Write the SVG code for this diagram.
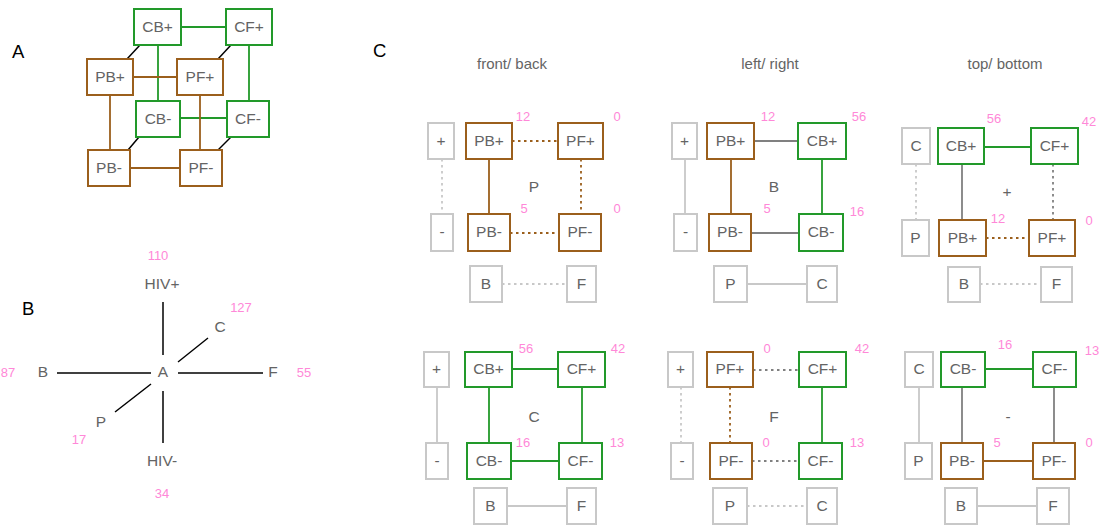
<svg xmlns="http://www.w3.org/2000/svg" width="1107" height="530" viewBox="0 0 1107 530">
<style>
  text { font-family: "Liberation Sans", Arial, sans-serif; }
  .lbl { font-size: 18.5px; fill: #000; }
  .t { font-size: 15.5px; fill: #646464; text-anchor: middle; }
  .ttl { font-size: 15px; fill: #646464; text-anchor: middle; }
  .n { font-size: 13px; fill: #ff88d8; text-anchor: middle; }
  .bx { fill: #fff; stroke-width: 2; }
  .br { stroke: #9b5f1c; }
  .gr { stroke: #22992a; }
  .lg { stroke: #c8c8c8; }
  .e { fill: none; stroke-width: 1.8; }
  .ebr { stroke: #9b5f1c; }
  .egr { stroke: #22992a; }
  .egy { stroke: #808080; }
  .elg { stroke: #c8c8c8; }
  .ebk { stroke: #000; stroke-width: 1.5; }
  .dot { stroke-dasharray: 2.5 3.5; }
</style>

<!-- panel labels -->
<text class="lbl" x="12" y="58">A</text>
<text class="lbl" x="22" y="315">B</text>
<text class="lbl" x="373" y="57">C</text>

<!-- ============ A: cube ============ -->
<g id="cube-edges">
  <line class="e egr" x1="181" y1="27" x2="226" y2="27"/>
  <line class="e egr" x1="158" y1="45" x2="158" y2="101"/>
  <line class="e egr" x1="249" y1="45" x2="249" y2="101"/>
  <line class="e egr" x1="180" y1="118" x2="227" y2="118"/>
  <line class="e ebr" x1="133" y1="77" x2="177" y2="77"/>
  <line class="e ebr" x1="110" y1="95" x2="110" y2="150"/>
  <line class="e ebr" x1="200" y1="95" x2="200" y2="150"/>
  <line class="e ebr" x1="130" y1="168" x2="180" y2="168"/>
  <line class="e ebk" x1="140" y1="45" x2="127" y2="59"/>
  <line class="e ebk" x1="231" y1="45" x2="218" y2="59"/>
  <line class="e ebk" x1="139" y1="137" x2="128" y2="150"/>
  <line class="e ebk" x1="231" y1="137" x2="218" y2="150"/>
</g>
<g id="a-CBp"><rect class="bx gr" x="134" y="9" width="47" height="36"/><text class="t" x="157.5" y="32">CB+</text></g>
<g id="a-CFp"><rect class="bx gr" x="226" y="9" width="46" height="36"/><text class="t" x="249" y="32">CF+</text></g>
<g id="a-PBp"><rect class="bx br" x="87" y="59" width="46" height="36"/><text class="t" x="110" y="82">PB+</text></g>
<g id="a-PFp"><rect class="bx br" x="177" y="59" width="46" height="36"/><text class="t" x="200" y="82">PF+</text></g>
<g id="a-CBm"><rect class="bx gr" x="136" y="101" width="44" height="36"/><text class="t" x="158" y="124">CB-</text></g>
<g id="a-CFm"><rect class="bx gr" x="227" y="101" width="42" height="36"/><text class="t" x="248" y="124">CF-</text></g>
<g id="a-PBm"><rect class="bx br" x="88" y="150" width="42" height="36"/><text class="t" x="109" y="173">PB-</text></g>
<g id="a-PFm"><rect class="bx br" x="180" y="150" width="42" height="36"/><text class="t" x="201" y="173">PF-</text></g>

<!-- ============ B: axes ============ -->
<g id="axes">
  <line class="e ebk" x1="163" y1="302" x2="163" y2="355"/>
  <line class="e ebk" x1="163" y1="391" x2="163" y2="443"/>
  <line class="e ebk" x1="57" y1="373" x2="151" y2="373"/>
  <line class="e ebk" x1="178" y1="373" x2="263" y2="373"/>
  <line class="e ebk" x1="178" y1="362" x2="208" y2="338"/>
  <line class="e ebk" x1="151" y1="384" x2="115" y2="412"/>
</g>
<g id="axis-labels">
  <text class="n" x="158" y="260">110</text>
  <text class="t" x="162" y="289">HIV+</text>
  <text class="n" x="241" y="312">127</text>
  <text class="t" x="220" y="332">C</text>
  <text class="n" x="8" y="377">87</text>
  <text class="t" x="43" y="377">B</text>
  <text class="t" x="163" y="377">A</text>
  <text class="t" x="273" y="377">F</text>
  <text class="n" x="304" y="377">55</text>
  <text class="t" x="101" y="427">P</text>
  <text class="n" x="79" y="444">17</text>
  <text class="t" x="162" y="466">HIV-</text>
  <text class="n" x="162" y="498">34</text>
</g>

<!-- ============ C: faces ============ -->
<text class="ttl" x="512" y="69">front/ back</text>
<text class="ttl" x="770" y="69">left/ right</text>
<text class="ttl" x="1005" y="69">top/ bottom</text>

<g id="face-edges">
  <!-- front/ back -->
  <line class="e ebr dot" x1="512" y1="141" x2="558" y2="141"/>
  <line class="e ebr" x1="489" y1="159" x2="489" y2="214"/>
  <line class="e ebr dot" x1="581" y1="159" x2="581" y2="214"/>
  <line class="e ebr dot" x1="510" y1="233" x2="559" y2="233"/>
  <line class="e elg dot" x1="442" y1="159" x2="442" y2="214"/>
  <line class="e elg dot" x1="502" y1="284" x2="567" y2="284"/>
  <!-- left/ right -->
  <line class="e egy" x1="754" y1="141" x2="798" y2="141"/>
  <line class="e ebr" x1="731" y1="159" x2="731" y2="214"/>
  <line class="e egr" x1="822" y1="159" x2="822" y2="214"/>
  <line class="e egy" x1="751" y1="233" x2="799" y2="233"/>
  <line class="e elg" x1="685" y1="159" x2="685" y2="214"/>
  <line class="e elg" x1="747" y1="284" x2="807" y2="284"/>
  <!-- top/ bottom, + -->
  <line class="e egr" x1="984" y1="147" x2="1031" y2="147"/>
  <line class="e egy" x1="962" y1="164" x2="962" y2="220"/>
  <line class="e egy dot" x1="1053" y1="164" x2="1053" y2="220"/>
  <line class="e ebr dot" x1="986" y1="238" x2="1029" y2="238"/>
  <line class="e elg dot" x1="916" y1="164" x2="916" y2="220"/>
  <line class="e elg dot" x1="980" y1="284" x2="1041" y2="284"/>
  <!-- C -->
  <line class="e egr" x1="512" y1="369" x2="558" y2="369"/>
  <line class="e egr" x1="489" y1="387" x2="489" y2="443"/>
  <line class="e egr" x1="582" y1="387" x2="582" y2="443"/>
  <line class="e egr" x1="511" y1="461" x2="559" y2="461"/>
  <line class="e elg" x1="437" y1="387" x2="437" y2="443"/>
  <line class="e elg" x1="507" y1="506" x2="567" y2="506"/>
  <!-- F -->
  <line class="e egy dot" x1="753" y1="370" x2="799" y2="370"/>
  <line class="e ebr dot" x1="730" y1="387" x2="730" y2="443"/>
  <line class="e egr" x1="822" y1="387" x2="822" y2="443"/>
  <line class="e egy dot" x1="752" y1="461" x2="799" y2="461"/>
  <line class="e elg dot" x1="681" y1="387" x2="681" y2="443"/>
  <line class="e elg dot" x1="747" y1="506" x2="807" y2="506"/>
  <!-- - -->
  <line class="e egr" x1="985" y1="369" x2="1033" y2="369"/>
  <line class="e egy" x1="962" y1="387" x2="962" y2="443"/>
  <line class="e egy" x1="1054" y1="387" x2="1054" y2="443"/>
  <line class="e ebr" x1="983" y1="461" x2="1033" y2="461"/>
  <line class="e elg" x1="919" y1="387" x2="919" y2="443"/>
  <line class="e elg" x1="977" y1="506" x2="1037" y2="506"/>
</g>

<!-- front/ back face -->
<g id="fb-plus"><rect class="bx lg" x="428" y="123" width="26" height="36"/><text class="t" x="441" y="146">+</text></g>
<g id="fb-minus"><rect class="bx lg" x="431" y="214" width="22" height="37"/><text class="t" x="442" y="237">-</text></g>
<g id="fb-PBp"><rect class="bx br" x="466" y="123" width="46" height="36"/><text class="t" x="489" y="146">PB+</text></g>
<g id="fb-PFp"><rect class="bx br" x="558" y="123" width="45" height="36"/><text class="t" x="580.5" y="146">PF+</text></g>
<g id="fb-PBm"><rect class="bx br" x="468" y="214" width="42" height="37"/><text class="t" x="489" y="237">PB-</text></g>
<g id="fb-PFm"><rect class="bx br" x="559" y="214" width="42" height="37"/><text class="t" x="580" y="237">PF-</text></g>
<g id="fb-B"><rect class="bx lg" x="470" y="266" width="32" height="36"/><text class="t" x="486" y="289">B</text></g>
<g id="fb-F"><rect class="bx lg" x="567" y="266" width="29" height="36"/><text class="t" x="581.5" y="289">F</text></g>
<g id="fb-labels">
  <text class="n" x="523" y="121">12</text><text class="n" x="617" y="121">0</text>
  <text class="t" x="534" y="192">P</text>
  <text class="n" x="524" y="213">5</text><text class="n" x="617" y="213">0</text>
</g>

<!-- left/ right face -->
<g id="lr-plus"><rect class="bx lg" x="672" y="123" width="25" height="36"/><text class="t" x="684.5" y="146">+</text></g>
<g id="lr-minus"><rect class="bx lg" x="674" y="214" width="23" height="37"/><text class="t" x="685.5" y="237">-</text></g>
<g id="lr-PBp"><rect class="bx br" x="707" y="123" width="47" height="36"/><text class="t" x="730.5" y="146">PB+</text></g>
<g id="lr-CBp"><rect class="bx gr" x="798" y="123" width="48" height="36"/><text class="t" x="822" y="146">CB+</text></g>
<g id="lr-PBm"><rect class="bx br" x="709" y="214" width="42" height="37"/><text class="t" x="730" y="237">PB-</text></g>
<g id="lr-CBm"><rect class="bx gr" x="799" y="214" width="44" height="37"/><text class="t" x="821" y="237">CB-</text></g>
<g id="lr-P"><rect class="bx lg" x="714" y="266" width="33" height="36"/><text class="t" x="730.5" y="289">P</text></g>
<g id="lr-C"><rect class="bx lg" x="807" y="266" width="30" height="36"/><text class="t" x="822" y="289">C</text></g>
<g id="lr-labels">
  <text class="n" x="768" y="121">12</text><text class="n" x="859" y="121">56</text>
  <text class="t" x="774" y="192">B</text>
  <text class="n" x="767" y="213">5</text><text class="n" x="857" y="216">16</text>
</g>

<!-- top/ bottom face (+) -->
<g id="tb-C"><rect class="bx lg" x="902" y="128" width="28" height="36"/><text class="t" x="916" y="151">C</text></g>
<g id="tb-P"><rect class="bx lg" x="902" y="220" width="27" height="36"/><text class="t" x="915.5" y="243">P</text></g>
<g id="tb-CBp"><rect class="bx gr" x="938" y="128" width="46" height="36"/><text class="t" x="961" y="151">CB+</text></g>
<g id="tb-CFp"><rect class="bx gr" x="1031" y="128" width="47" height="36"/><text class="t" x="1054.5" y="151">CF+</text></g>
<g id="tb-PBp"><rect class="bx br" x="939" y="220" width="47" height="36"/><text class="t" x="962.5" y="243">PB+</text></g>
<g id="tb-PFp"><rect class="bx br" x="1029" y="220" width="46" height="36"/><text class="t" x="1052" y="243">PF+</text></g>
<g id="tb-B"><rect class="bx lg" x="948" y="267" width="32" height="35"/><text class="t" x="964" y="289">B</text></g>
<g id="tb-F"><rect class="bx lg" x="1041" y="267" width="31" height="35"/><text class="t" x="1056.5" y="289">F</text></g>
<g id="tb-labels">
  <text class="n" x="994" y="123">56</text><text class="n" x="1089" y="126">42</text>
  <text class="t" x="1007" y="197">+</text>
  <text class="n" x="998" y="223">12</text><text class="n" x="1089" y="225">0</text>
</g>

<!-- C face -->
<g id="c-plus"><rect class="bx lg" x="424" y="352" width="25" height="35"/><text class="t" x="436.5" y="374">+</text></g>
<g id="c-minus"><rect class="bx lg" x="426" y="443" width="22" height="36"/><text class="t" x="437" y="466">-</text></g>
<g id="c-CBp"><rect class="bx gr" x="465" y="352" width="47" height="35"/><text class="t" x="488.5" y="374">CB+</text></g>
<g id="c-CFp"><rect class="bx gr" x="558" y="352" width="47" height="35"/><text class="t" x="581.5" y="374">CF+</text></g>
<g id="c-CBm"><rect class="bx gr" x="467" y="443" width="44" height="36"/><text class="t" x="489" y="466">CB-</text></g>
<g id="c-CFm"><rect class="bx gr" x="559" y="443" width="43" height="36"/><text class="t" x="580.5" y="466">CF-</text></g>
<g id="c-B"><rect class="bx lg" x="474" y="488" width="33" height="36"/><text class="t" x="490.5" y="511">B</text></g>
<g id="c-F"><rect class="bx lg" x="567" y="488" width="29" height="36"/><text class="t" x="581.5" y="511">F</text></g>
<g id="c-labels">
  <text class="n" x="526" y="353">56</text><text class="n" x="618" y="353">42</text>
  <text class="t" x="534" y="422">C</text>
  <text class="n" x="523" y="447">16</text><text class="n" x="617" y="447">13</text>
</g>

<!-- F face -->
<g id="f-plus"><rect class="bx lg" x="668" y="352" width="25" height="35"/><text class="t" x="680.5" y="374">+</text></g>
<g id="f-minus"><rect class="bx lg" x="671" y="443" width="22" height="36"/><text class="t" x="682" y="466">-</text></g>
<g id="f-PFp"><rect class="bx br" x="707" y="352" width="46" height="35"/><text class="t" x="730" y="374">PF+</text></g>
<g id="f-CFp"><rect class="bx gr" x="799" y="352" width="47" height="35"/><text class="t" x="822.5" y="374">CF+</text></g>
<g id="f-PFm"><rect class="bx br" x="710" y="443" width="42" height="36"/><text class="t" x="731" y="466">PF-</text></g>
<g id="f-CFm"><rect class="bx gr" x="799" y="443" width="43" height="36"/><text class="t" x="820.5" y="466">CF-</text></g>
<g id="f-P"><rect class="bx lg" x="713" y="488" width="34" height="36"/><text class="t" x="730" y="511">P</text></g>
<g id="f-C"><rect class="bx lg" x="807" y="488" width="30" height="36"/><text class="t" x="822" y="511">C</text></g>
<g id="f-labels">
  <text class="n" x="767" y="353">0</text><text class="n" x="862" y="353">42</text>
  <text class="t" x="774" y="422">F</text>
  <text class="n" x="766" y="447">0</text><text class="n" x="857" y="447">13</text>
</g>

<!-- top/ bottom face (-) -->
<g id="m-C"><rect class="bx lg" x="905" y="352" width="28" height="35"/><text class="t" x="919" y="374">C</text></g>
<g id="m-P"><rect class="bx lg" x="905" y="443" width="27" height="36"/><text class="t" x="918.5" y="466">P</text></g>
<g id="m-CBm"><rect class="bx gr" x="941" y="352" width="44" height="35"/><text class="t" x="963" y="374">CB-</text></g>
<g id="m-CFm"><rect class="bx gr" x="1033" y="352" width="43" height="35"/><text class="t" x="1054.5" y="374">CF-</text></g>
<g id="m-PBm"><rect class="bx br" x="941" y="443" width="42" height="36"/><text class="t" x="962" y="466">PB-</text></g>
<g id="m-PFm"><rect class="bx br" x="1033" y="443" width="42" height="36"/><text class="t" x="1054" y="466">PF-</text></g>
<g id="m-B"><rect class="bx lg" x="945" y="488" width="32" height="36"/><text class="t" x="961" y="511">B</text></g>
<g id="m-F"><rect class="bx lg" x="1037" y="488" width="32" height="36"/><text class="t" x="1053" y="511">F</text></g>
<g id="m-labels">
  <text class="n" x="1005" y="349">16</text><text class="n" x="1092" y="355">13</text>
  <text class="t" x="1008" y="422">-</text>
  <text class="n" x="997" y="447">5</text><text class="n" x="1089" y="447">0</text>
</g>
</svg>
